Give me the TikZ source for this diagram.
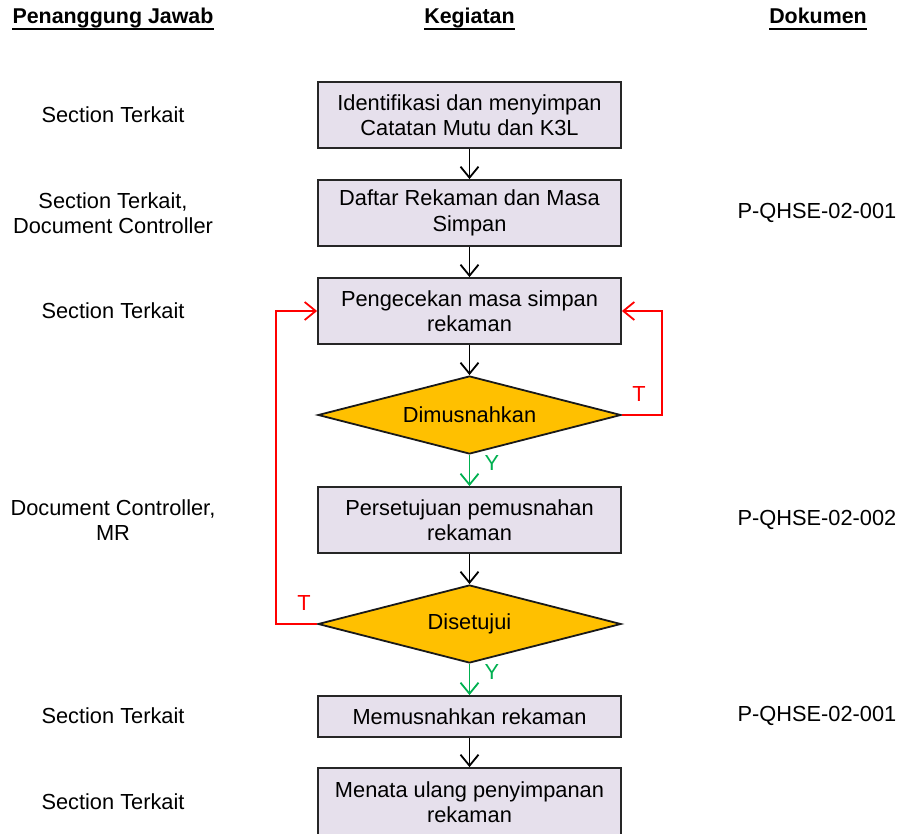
\documentclass[tikz,border=0pt]{standalone}
\usepackage{fontspec}
\setmainfont{Liberation Sans}
\usetikzlibrary{arrows.meta,shapes.geometric}
\definecolor{boxfill}{HTML}{E6E0EC}
\definecolor{decfill}{HTML}{FFC000}
\definecolor{tred}{HTML}{FF0000}
\definecolor{tgreen}{HTML}{00B050}
\begin{document}
\begin{tikzpicture}[x=1pt,y=-1pt,
  font=\fontsize{21.8}{25.5}\selectfont,
  proc/.style={draw=black!85, line width=1.8pt, fill=boxfill, minimum width=303pt, minimum height=66pt, align=center, inner sep=0pt},
  dec/.style={diamond, draw=black!90, line width=1.8pt, fill=decfill, minimum width=303pt, minimum height=78pt, aspect=3.9, inner sep=0pt},
  lbl/.style={align=center, inner sep=0pt},
  hdr/.style={font=\fontsize{21.4}{25}\selectfont\bfseries, inner sep=0pt, text depth=5.5pt},
  arr/.style={draw=black, line width=1.8pt, -{Straight Barb[length=11pt,width=18pt,line width=1.8pt]}},
  noarr/.style={draw=tred, line width=1.8pt, -{Straight Barb[length=11pt,width=18pt,line width=1.8pt]}},
  yesarr/.style={draw=tgreen, line width=1.8pt, -{Straight Barb[length=11pt,width=18pt,line width=1.8pt]}}
]
\useasboundingbox (0,0) rectangle (902,834);

% headers
\node[hdr] (h1) at (113,18.5) {Penanggung Jawab};
\node[hdr] (h2) at (469.5,18.5) {Kegiatan};
\node[hdr] (h3) at (818,18.5) {Dokumen};
\foreach \h in {h1,h2,h3} \draw[line width=2pt] (\h.south west) -- (\h.south east);

% process column
\node[proc] (b1) at (469.5,115) {Identifikasi dan menyimpan\\Catatan Mutu dan K3L};
\node[proc] (b2) at (469.5,213) {Daftar Rekaman dan Masa\\Simpan};
\node[proc] (b3) at (469.5,311) {Pengecekan masa simpan\\rekaman};
\node[dec]  (d1) at (469.5,415) {Dimusnahkan};
\node[proc] (b4) at (469.5,520) {Persetujuan pemusnahan\\rekaman};
\node[dec]  (d2) at (469.5,624) {Disetujui};
\node[proc, minimum height=41pt] (b5) at (469.5,716.5) {Memusnahkan rekaman};
\node[proc, minimum height=68pt] (b6) at (469.5,802) {Menata ulang penyimpanan\\rekaman};

% connectors
\draw[arr] (b1.south) -- (b2.north);
\draw[arr] (b2.south) -- (b3.north);
\draw[arr] (b3.south) -- (d1.north);
\draw[yesarr] (d1.south) -- (b4.north);
\draw[arr] (b4.south) -- (d2.north);
\draw[yesarr] (d2.south) -- (b5.north);
\draw[arr] (b5.south) -- (b6.north);
\draw[noarr] (d1.east) -- ++(40,0) |- (b3.east);
\draw[noarr] (d2.west) -- ++(-41,0) |- (b3.west);

% branch labels
\node[lbl, text=tred] (t1) at (639,394) {T};
\node[lbl, text=tred] (t2) at (304,603) {T};
\node[lbl, text=tgreen] (y1) at (492,463) {Y};
\node[lbl, text=tgreen] (y2) at (492,672) {Y};

% responsible column
\node[lbl] (r1) at (113,115) {Section Terkait};
\node[lbl] (r2) at (113,213) {Section Terkait,\\Document Controller};
\node[lbl] (r3) at (113,311) {Section Terkait};
\node[lbl] (r4) at (113,520) {Document Controller,\\MR};
\node[lbl] (r5) at (113,716) {Section Terkait};
\node[lbl] (r6) at (113,802) {Section Terkait};

% document column
\node[lbl] (k2) at (817,213) {P-QHSE-02-001};
\node[lbl] (k4) at (817,520) {P-QHSE-02-002};
\node[lbl] (k5) at (817,716) {P-QHSE-02-001};
\end{tikzpicture}
\end{document}
